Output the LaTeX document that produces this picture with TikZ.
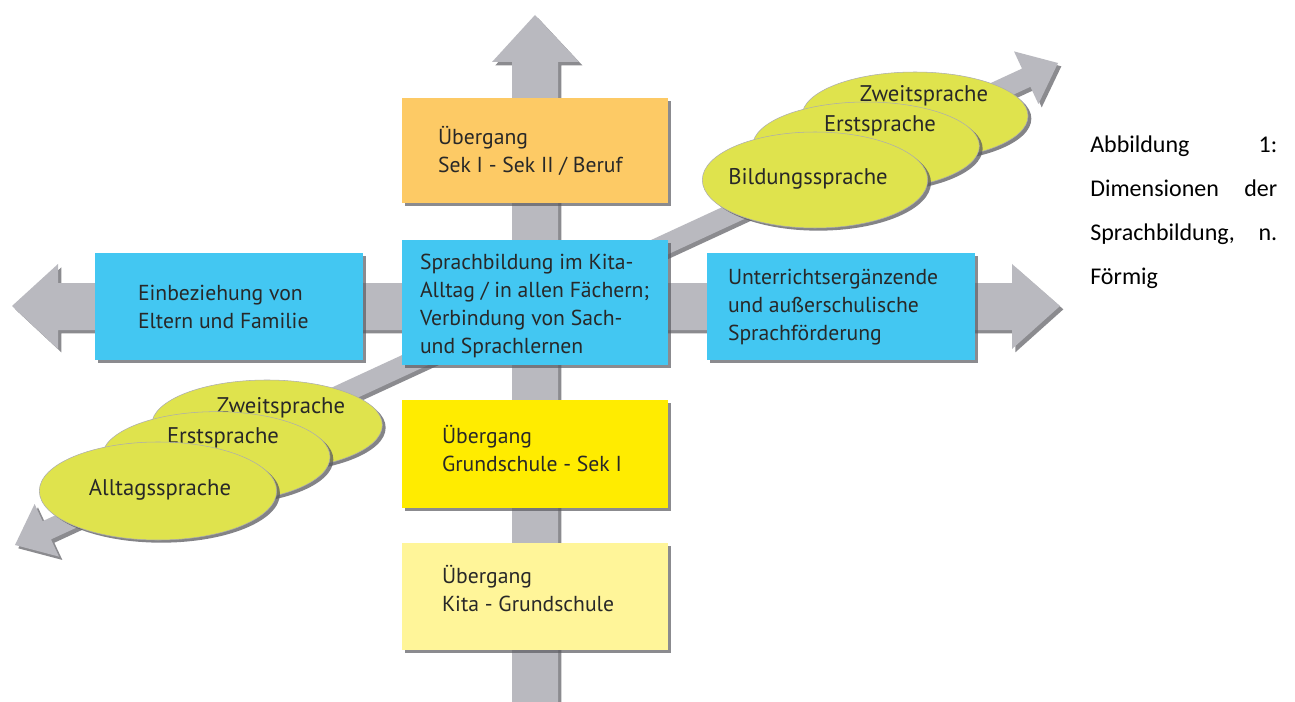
\documentclass[tikz,border=0pt]{standalone}
\usepackage{fontspec}
\setmainfont{PT Sans}
\newfontfamily\capfont{Carlito}
\usetikzlibrary{shapes.geometric,shadows}
\definecolor{arrowC}{RGB}{185,185,191}
\definecolor{shadowC}{RGB}{90,90,96}
\definecolor{blueC}{RGB}{67,199,242}
\definecolor{orangeC}{RGB}{253,202,101}
\definecolor{yellowC}{RGB}{255,236,0}
\definecolor{lightyC}{RGB}{255,245,153}
\definecolor{ellC}{RGB}{223,227,77}
\definecolor{txtC}{RGB}{40,40,40}
\newcommand\bxfont{\fontsize{16.25}{21}\selectfont}
\newcommand\elfont{\fontsize{17}{20}\selectfont}
\tikzset{
  dshadow/.style={drop shadow={shadow xshift=2.5pt, shadow yshift=-2.5pt, fill=shadowC, opacity=.7}},
  panel/.style={rectangle, inner sep=0pt, dshadow},
  btext/.style={anchor=west, inner sep=0pt, align=left, text=txtC, font=\bxfont},
  oval/.style={ellipse, inner sep=0pt, fill=ellC, draw=shadowC!50, line width=0.4pt,
    drop shadow={shadow xshift=2.5pt, shadow yshift=-2pt, fill=shadowC, opacity=.75}},
  eltext/.style={anchor=base, inner sep=0pt, text=txtC, font=\elfont},
  axis/.style={fill=arrowC, dshadow}
}
\begin{document}
\begin{tikzpicture}[x=0.75pt,y=-0.75pt]
\useasboundingbox (0,0) rectangle (1295,702);
\fill[white] (0,0) rectangle (1295,702);
% diagonal axis
\path[axis] (15,545) -- (34.6,504.0) -- (42.6,521.2) -- (1022.0,68.6) -- (1014.0,51.4)
  -- (1058,63) -- (1038.4,104.0) -- (1030.4,86.8) -- (51.0,539.4) -- (59.0,556.6) -- cycle;
% horizontal axis
\path[axis] (12,306) -- (58,264) -- (58,283) -- (1012,283) -- (1012,264) -- (1060,306)
  -- (1012,349) -- (1012,330) -- (58,330) -- (58,349) -- cycle;
% vertical axis
\path[axis] (512,704) -- (512,62) -- (492,62) -- (535,15) -- (579,62) -- (558,62) -- (558,704) -- cycle;
% boxes
\node[panel, fill=orangeC, minimum width=199.5pt, minimum height=78.75pt] (sek) at (535,150.5) {};
\node[btext] (sekt) at ([xshift=27pt]sek.west) {Übergang\\Sek I - Sek II / Beruf};
\node[panel, fill=blueC, minimum width=199.5pt, minimum height=93.75pt] (mid) at (535,302.5) {};
\node[btext] (midt) at ([xshift=13.5pt,yshift=-2.25pt]mid.west)
  {Sprachbildung im Kita-\\Alltag / in allen Fächern;\\Verbindung von Sach-\\und Sprachlernen};
\node[panel, fill=blueC, minimum width=201pt, minimum height=80.25pt] (eltern) at (229,306.5) {};
\node[btext] (elternt) at ([xshift=32.25pt]eltern.west) {Einbeziehung von\\Eltern und Familie};
\node[panel, fill=blueC, minimum width=201pt, minimum height=80.25pt] (ausser) at (841,306.5) {};
\node[btext] (ausert) at ([xshift=15.75pt,yshift=-0.75pt]ausser.west)
  {Unterrichtsergänzende\\und außerschulische\\Sprachförderung};
\node[panel, fill=yellowC, minimum width=199.5pt, minimum height=81pt] (gs) at (535,454) {};
\node[btext] (gst) at ([xshift=30pt,yshift=3.75pt]gs.west) {Übergang\\Grundschule - Sek I};
\node[panel, fill=lightyC, minimum width=199.5pt, minimum height=80.25pt] (kita) at (535,596.5) {};
\node[btext] (kitat) at ([xshift=30pt,yshift=6pt]kita.west) {Übergang\\Kita - Grundschule};
% upper ellipses
\node[oval, minimum width=169.5pt, minimum height=66pt] (z1) at (915,116) {};
\node[eltext] (z1t) at (924,102) {Zweitsprache};
\node[oval, minimum width=170pt, minimum height=66pt] (e1) at (866,146) {};
\node[eltext] (e1t) at (880,132) {Erstsprache};
\node[oval, minimum width=169pt, minimum height=72pt] (b1) at (815,180) {};
\node[eltext] (b1t) at (808,185) {Bildungssprache};
% lower ellipses
\node[oval, minimum width=173pt, minimum height=67.5pt] (z2) at (267,425) {};
\node[eltext] (z2t) at (281,413) {Zweitsprache};
\node[oval, minimum width=171pt, minimum height=68pt] (e2) at (216,457) {};
\node[eltext] (e2t) at (223,443) {Erstsprache};
\node[oval, minimum width=178pt, minimum height=73.5pt] (a2) at (158,491) {};
\node[eltext] (a2t) at (160,495) {Alltagssprache};
% caption
\node[anchor=north west, inner sep=0pt, text width=140.25pt, align=left,
  font=\capfont\fontsize{18}{33}\selectfont] (cap) at (1090,136)
  {Abbildung\hfill 1:\\Dimensionen\hfill der\\Sprachbildung,\hfill n.\\Förmig};
\end{tikzpicture}
\end{document}
